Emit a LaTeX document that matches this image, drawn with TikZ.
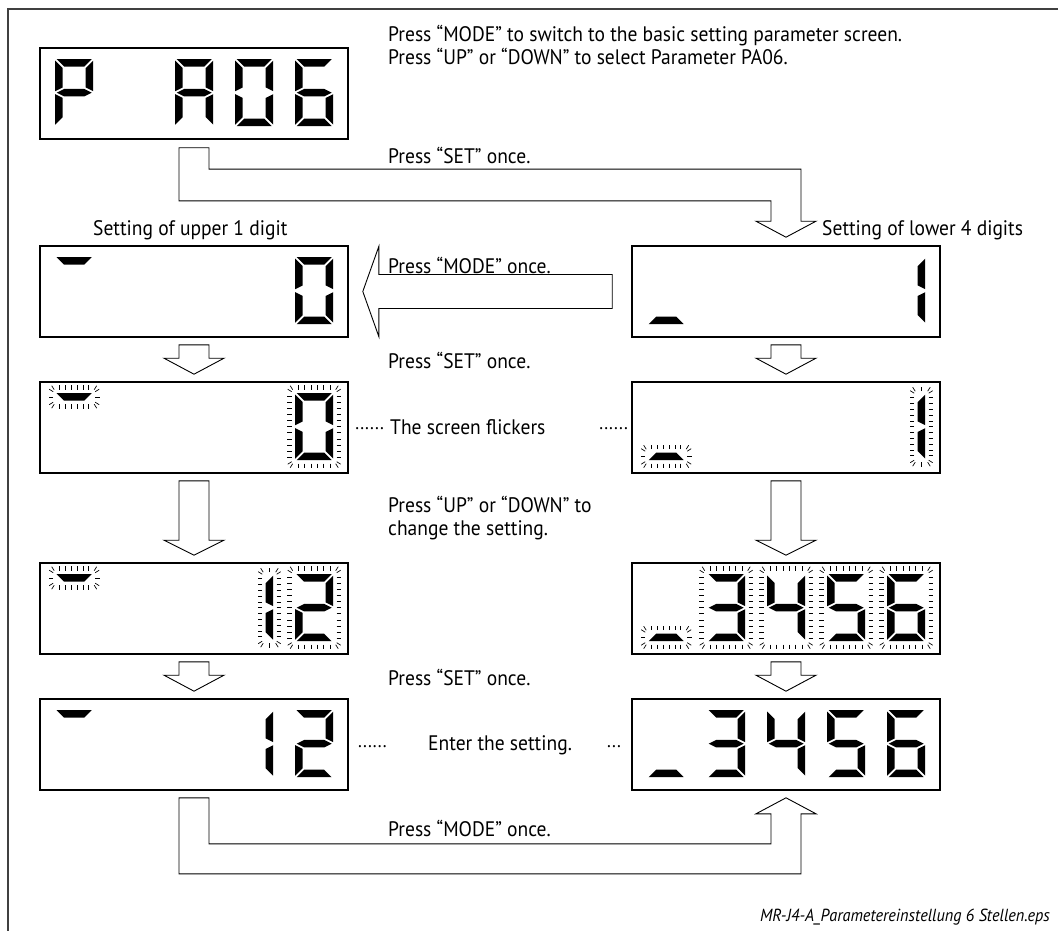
\documentclass[tikz,border=0pt]{standalone}
\usepackage{fontspec}
\setmainfont[FakeStretch=0.93]{PT Sans}
\usetikzlibrary{calc, positioning}

% seven-segment pieces, local cell coordinates (38 x 67)
\newcommand\segA{\fill (1.5,0) -- (36.5,0) -- (29,7.5) -- (9,7.5) -- cycle;}
\newcommand\segB{\fill (38,1.5) -- (30.5,9) -- (30.5,28.25) -- (38,32) -- cycle;}
\newcommand\segC{\fill (38,35) -- (30.5,38.75) -- (30.5,58) -- (38,65.5) -- cycle;}
\newcommand\segD{\fill (1.5,67) -- (36.5,67) -- (29,59.5) -- (9,59.5) -- cycle;}
\newcommand\segE{\fill (0,35) -- (7.5,38.75) -- (7.5,58) -- (0,65.5) -- cycle;}
\newcommand\segF{\fill (0,1.5) -- (7.5,9) -- (7.5,28.25) -- (0,32) -- cycle;}
\newcommand\segG{\fill (1.5,33.5) -- (9,29.75) -- (29,29.75) -- (36.5,33.5) -- (29,37.25) -- (9,37.25) -- cycle;}

\newcommand\chP{\segA\segB\segE\segF\segG}
\newcommand\chA{\segA\segB\segC\segE\segF\segG}
\newcommand\chZero{\segA\segB\segC\segD\segE\segF}
\newcommand\chOne{\segB\segC}
\newcommand\chTwo{\segA\segB\segG\segE\segD}
\newcommand\chThree{\segA\segB\segG\segC\segD}
\newcommand\chFour{\segF\segG\segB\segC}
\newcommand\chFive{\segA\segF\segG\segC\segD}
\newcommand\chSix{\segA\segF\segG\segE\segD\segC}

% flicker ticks round a rectangle L T R B
\newcommand\flick[4]{%
  \pgfmathsetmacro\fw{#3-(#1)}%
  \pgfmathsetmacro\fh{#4-(#2)}%
  \pgfmathtruncatemacro\nx{max(1,round(\fw/6))}%
  \pgfmathtruncatemacro\ny{max(1,round(\fh/6))}%
  \foreach \i in {1,...,\nx}{%
    \pgfmathsetmacro\xx{#1+(\i-0.5)*\fw/\nx}%
    \draw[tick] (\xx,#2-3.5) -- (\xx,#2-8) (\xx,#4+3.5) -- (\xx,#4+8);}%
  \foreach \j in {1,...,\ny}{%
    \pgfmathsetmacro\yy{#2+(\j-0.5)*\fh/\ny}%
    \draw[tick] (#1-3.5,\yy) -- (#1-8,\yy) (#3+3.5,\yy) -- (#3+8,\yy);}%
  \draw[tick] (#1-2.5,#2-3.5) -- (#1-5,#2-7.5) (#1-3.5,#2-1.5) -- (#1-7.5,#2-4)
    (#3+2.5,#2-3.5) -- (#3+5,#2-7.5) (#3+3.5,#2-1.5) -- (#3+7.5,#2-4)
    (#1-2.5,#4+3.5) -- (#1-5,#4+7.5) (#1-3.5,#4+1.5) -- (#1-7.5,#4+4)
    (#3+2.5,#4+3.5) -- (#3+5,#4+7.5) (#3+3.5,#4+1.5) -- (#3+7.5,#4+4);}
\newcommand\flickall{\flick{0}{0}{38}{67}}
\newcommand\flickone{\flick{30.5}{1.5}{38}{65.5}}
\newcommand\flicktop{\flick{1.5}{0}{36.5}{7.5}}
\newcommand\flickbot{\flick{1.5}{59.5}{36.5}{67}}

% one digit cell of a display node
\newcommand\lcdcell[3]{\begin{scope}[shift={(#1.north west)}, shift={({16+60*#2},12)}]#3\end{scope}}

% small hollow arrow between two displays
\newcommand\downarr[2]{\draw[hollow] ($(#1.south)+(-15,7)$) -- ($(#1.south)+(15,7)$)
  -- ($(#2.north)+(15,-23)$) -- ($(#2.north)+(30,-23)$) -- ($(#2.north)+(0,-7)$)
  -- ($(#2.north)+(-30,-23)$) -- ($(#2.north)+(-15,-23)$) -- cycle;}

\tikzset{
  lcd/.style={draw, line width=1.6pt, fill=white, minimum width=308pt, minimum height=91pt, inner sep=0pt},
  hollow/.style={draw, fill=white, line width=0.9pt, line join=miter},
  tick/.style={line width=0.7pt},
  txt/.style={font=\fontsize{21}{23}\selectfont, inner sep=0pt, anchor=west, align=left},
  dots/.style={font=\fontsize{19}{19}\selectfont, inner sep=0pt, anchor=west},
}

\begin{document}
\begin{tikzpicture}[x=1pt, y=-1pt]
  \useasboundingbox (0,0) rectangle (1058,931);
  % frame
  \draw[line width=1.3pt, black!75] (8,931) -- (8,9) -- (1058,9);

  % displays
  \node[lcd] (pa) at (194,93.5) {};
  \node[lcd] (l2) at (194,291.5) {};
  \node[lcd] (r2) at (786,291.5) {};
  \node[lcd] (l3) at (194,427.5) {};
  \node[lcd] (r3) at (786,427.5) {};
  \node[lcd] (l4) at (194,608.5) {};
  \node[lcd] (r4) at (786,608.5) {};
  \node[lcd] (l5) at (194,744.5) {};
  \node[lcd] (r5) at (786,744.5) {};

  % display contents
  \lcdcell{pa}{0}{\chP}
  \lcdcell{pa}{2}{\chA}
  \lcdcell{pa}{3}{\chZero}
  \lcdcell{pa}{4}{\chSix}

  \lcdcell{l2}{0}{\segA}
  \lcdcell{l2}{4}{\chZero}
  \lcdcell{r2}{0}{\segD}
  \lcdcell{r2}{4}{\chOne}

  \lcdcell{l3}{0}{\segA\flicktop}
  \lcdcell{l3}{4}{\chZero\flickall}
  \lcdcell{r3}{0}{\segD\flickbot}
  \lcdcell{r3}{4}{\chOne\flickone}

  \lcdcell{l4}{0}{\segA\flicktop}
  \lcdcell{l4}{3}{\chOne\flickone}
  \lcdcell{l4}{4}{\chTwo\flickall}
  \lcdcell{r4}{0}{\segD\flickbot}
  \foreach \k/\ch in {1/\chThree, 2/\chFour, 3/\chFive, 4/\chSix}
    {\lcdcell{r4}{\k}{\ch\flickall}}

  \lcdcell{l5}{0}{\segA}
  \lcdcell{l5}{3}{\chOne}
  \lcdcell{l5}{4}{\chTwo}
  \lcdcell{r5}{0}{\segD}
  \foreach \k/\ch in {1/\chThree, 2/\chFour, 3/\chFive, 4/\chSix}
    {\lcdcell{r5}{\k}{\ch}}

  % hollow arrows
  \draw[hollow] ($(pa.south)+(-15,8)$) -- ($(pa.south)+(15,8)$) |- ($(r2.north)+(15,-76)$)
    -- ($(r2.north)+(15,-24)$) -- ($(r2.north)+(30,-24)$) -- ($(r2.north)+(0,-8)$)
    -- ($(r2.north)+(-30,-24)$) -- ($(r2.north)+(-15,-24)$) |- ($(pa.south)+(-15,61)$) -- cycle;
  \draw[hollow] ($(r2.west)+(-19,-17)$) -- ($(r2.west)+(-19,17)$) -- ($(l2.east)+(30,17)$)
    -- ($(l2.east)+(30,45)$) -- ($(l2.east)+(14,0)$) -- ($(l2.east)+(30,-45)$)
    -- ($(l2.east)+(30,-17)$) -- cycle;
  \downarr{l2}{l3}
  \downarr{r2}{r3}
  \draw[hollow] ($(l3.south)+(-15,7)$) -- ($(l3.south)+(15,7)$) -- ($(l4.north)+(15,-22)$)
    -- ($(l4.north)+(30,-22)$) -- ($(l4.north)+(0,-7)$) -- ($(l4.north)+(-30,-22)$)
    -- ($(l4.north)+(-15,-22)$) -- cycle;
  \draw[hollow] ($(r3.south)+(-15,7)$) -- ($(r3.south)+(15,7)$) -- ($(r4.north)+(15,-22)$)
    -- ($(r4.north)+(30,-22)$) -- ($(r4.north)+(0,-7)$) -- ($(r4.north)+(-30,-22)$)
    -- ($(r4.north)+(-15,-22)$) -- cycle;
  \downarr{l4}{l5}
  \downarr{r4}{r5}
  \draw[hollow] ($(l5.south)+(-15,7)$) -- ($(l5.south)+(15,7)$) |- ($(r5.south)+(-15,53)$)
    -- ($(r5.south)+(-15,23)$) -- ($(r5.south)+(-30,23)$) -- ($(r5.south)+(0,7)$)
    -- ($(r5.south)+(30,23)$) -- ($(r5.south)+(15,23)$) |- ($(l5.south)+(-15,83)$) -- cycle;

  % texts
  \node[txt, anchor=north west] (intro) at (388,25)
    {Press “MODE” to switch to the basic setting parameter screen.\\Press “UP” or “DOWN” to select Parameter PA06.};
  \node[txt] (set1) at (388,155) {Press “SET” once.};
  \node[txt] (upper) at (93,230) {Setting of upper 1 digit};
  \node[txt] (lower) at (822,230) {Setting of lower 4 digits};
  \node[txt] (mode1) at (388,265) {Press “MODE” once.};
  \node[txt] (set2) at (388,360) {Press “SET” once.};
  \node[txt] (flk) at (390,427.5) {The screen flickers};
  \node[dots, anchor=east] (flkl) at (384,429) {......};
  \node[dots, anchor=east] (flkr) at (628,429) {......};
  \node[txt] (updown) at (388,518.5) {Press “UP” or “DOWN” to\\change the setting.};
  \node[txt] (set3) at (388,677) {Press “SET” once.};
  \node[txt] (enter) at (428,745) {Enter the setting.};
  \node[dots] (entl) at (358,746.5) {......};
  \node[dots] (entr) at (607,746.5) {...};
  \node[txt] (mode2) at (388,828) {Press “MODE” once.};
  \node[font=\fontsize{17.5}{19}\selectfont\itshape, anchor=east, inner sep=0pt] (fname) at (1050,917)
    {MR-J4-A\_Parametereinstellung 6 Stellen.eps};
\end{tikzpicture}
\end{document}
